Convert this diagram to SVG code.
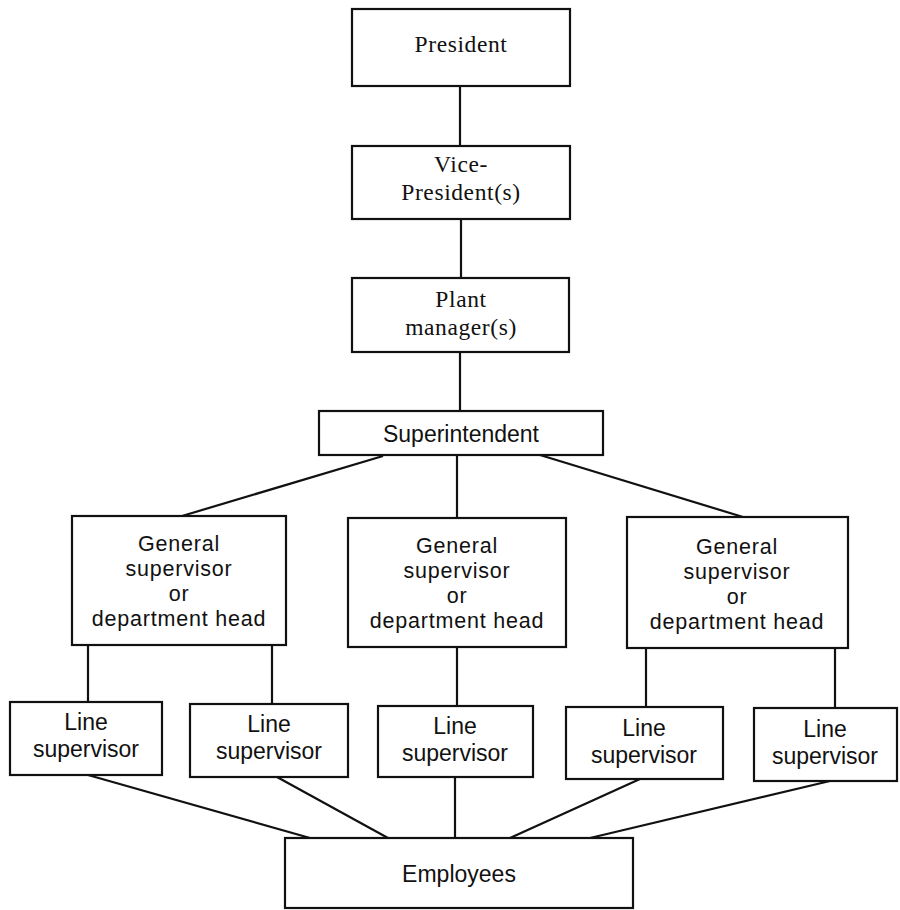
<svg xmlns="http://www.w3.org/2000/svg" width="900" height="910" viewBox="0 0 900 910">
<style>
.box{fill:#fff;stroke:#111;stroke-width:2.2}
.c{stroke:#111;stroke-width:2.2;fill:none}
.ts{font-family:"Liberation Serif","Times New Roman",serif;font-size:23.5px;letter-spacing:0.6px;fill:#111;text-anchor:middle}
.t{font-family:"Liberation Sans",Arial,sans-serif;font-size:23px;fill:#111;text-anchor:middle}
.g{font-family:"Liberation Sans",Arial,sans-serif;font-size:21.5px;letter-spacing:0.8px;fill:#111;text-anchor:middle}
</style>
<rect width="900" height="910" fill="#fff"/>
<g id="connectors">
<line class="c" x1="460" y1="86" x2="460" y2="146"/>
<line class="c" x1="461" y1="219" x2="461" y2="278"/>
<line class="c" x1="460" y1="352" x2="460" y2="411"/>
<line class="c" x1="383" y1="456" x2="182" y2="516"/>
<line class="c" x1="457" y1="455" x2="457" y2="518"/>
<line class="c" x1="540" y1="455" x2="743" y2="517"/>
<line class="c" x1="88" y1="645" x2="88" y2="702"/>
<line class="c" x1="272" y1="645" x2="272" y2="704"/>
<line class="c" x1="457" y1="647" x2="457" y2="706"/>
<line class="c" x1="646" y1="648" x2="646" y2="707"/>
<line class="c" x1="835" y1="648" x2="835" y2="708"/>
<line class="c" x1="88" y1="775" x2="310" y2="838"/>
<line class="c" x1="277" y1="777" x2="388" y2="838"/>
<line class="c" x1="455" y1="777" x2="455" y2="838"/>
<line class="c" x1="640" y1="779" x2="510" y2="838"/>
<line class="c" x1="830" y1="781" x2="590" y2="838"/>
</g>
<g id="president">
<rect class="box" x="352" y="9" width="218" height="77"/>
<text class="ts" x="461" y="52">President</text>
</g>
<g id="vice-president">
<rect class="box" x="352" y="146" width="218" height="73"/>
<text class="ts" x="461" y="172">Vice-</text>
<text class="ts" x="461" y="200">President(s)</text>
</g>
<g id="plant-manager">
<rect class="box" x="352" y="278" width="217" height="74"/>
<text class="ts" x="461" y="307">Plant</text>
<text class="ts" x="461" y="335">manager(s)</text>
</g>
<g id="superintendent">
<rect class="box" x="319" y="411" width="284" height="44"/>
<text class="t" x="461" y="442">Superintendent</text>
</g>
<g id="general-supervisor-1">
<rect class="box" x="72" y="516" width="214" height="129"/>
<text class="g" x="179" y="551">General</text>
<text class="g" x="179" y="576">supervisor</text>
<text class="g" x="179" y="601">or</text>
<text class="g" x="179" y="626">department head</text>
</g>
<g id="general-supervisor-2">
<rect class="box" x="348" y="518" width="218" height="129"/>
<text class="g" x="457" y="553">General</text>
<text class="g" x="457" y="578">supervisor</text>
<text class="g" x="457" y="603">or</text>
<text class="g" x="457" y="628">department head</text>
</g>
<g id="general-supervisor-3">
<rect class="box" x="627" y="517" width="221" height="131"/>
<text class="g" x="737" y="554">General</text>
<text class="g" x="737" y="579">supervisor</text>
<text class="g" x="737" y="604">or</text>
<text class="g" x="737" y="629">department head</text>
</g>
<g id="line-supervisor-1">
<rect class="box" x="10" y="702" width="152" height="73"/>
<text class="t" x="86" y="730">Line</text>
<text class="t" x="86" y="757">supervisor</text>
</g>
<g id="line-supervisor-2">
<rect class="box" x="190" y="704" width="158" height="73"/>
<text class="t" x="269" y="732">Line</text>
<text class="t" x="269" y="759">supervisor</text>
</g>
<g id="line-supervisor-3">
<rect class="box" x="378" y="706" width="155" height="71"/>
<text class="t" x="455" y="734">Line</text>
<text class="t" x="455" y="761">supervisor</text>
</g>
<g id="line-supervisor-4">
<rect class="box" x="566" y="707" width="157" height="72"/>
<text class="t" x="644" y="736">Line</text>
<text class="t" x="644" y="763">supervisor</text>
</g>
<g id="line-supervisor-5">
<rect class="box" x="754" y="708" width="143" height="73"/>
<text class="t" x="825" y="737">Line</text>
<text class="t" x="825" y="764">supervisor</text>
</g>
<g id="employees">
<rect class="box" x="285" y="838" width="348" height="70"/>
<text class="t" x="459" y="882">Employees</text>
</g>
</svg>
